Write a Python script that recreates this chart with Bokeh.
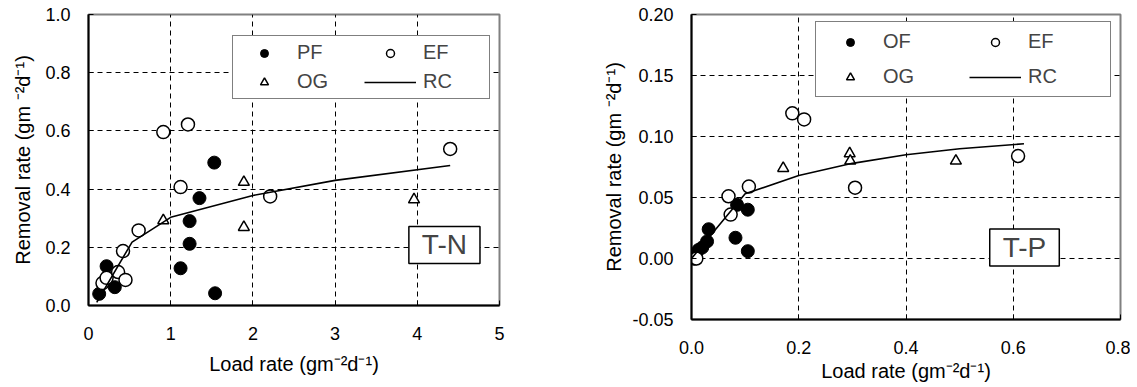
from bokeh.plotting import figure
from bokeh.layouts import row
from bokeh.models import Legend, LegendItem, Label, FixedTicker, NumeralTickFormatter, Range1d
from bokeh.embed import file_html
from bokeh.resources import INLINE

# ---------------- data: T-N panel ----------------
tn_pf_x = [0.13, 0.22, 0.32, 1.12, 1.23, 1.23, 1.35, 1.53, 1.54]
tn_pf_y = [0.040, 0.135, 0.063, 0.128, 0.212, 0.290, 0.369, 0.491, 0.042]
tn_ef_x = [0.17, 0.22, 0.36, 0.45, 0.42, 0.61, 0.91, 1.21, 1.12, 2.21, 4.40]
tn_ef_y = [0.077, 0.095, 0.115, 0.088, 0.187, 0.258, 0.596, 0.622, 0.407, 0.375, 0.538]
tn_og_x = [0.91, 1.89, 1.89, 3.96]
tn_og_y = [0.292, 0.424, 0.269, 0.364]
tn_rc_x = [0.10, 0.53, 1.0, 2.0, 3.0, 4.4]
tn_rc_y = [0.011, 0.218, 0.303, 0.378, 0.430, 0.481]
tn_xticks = [0, 1, 2, 3, 4, 5]
tn_yticks = [0.0, 0.2, 0.4, 0.6, 0.8, 1.0]

# ---------------- data: T-P panel ----------------
tp_of_x = [0.004, 0.008, 0.013, 0.020, 0.029, 0.032, 0.082, 0.085, 0.105, 0.105]
tp_of_y = [0.002, 0.004, 0.007, 0.009, 0.014, 0.024, 0.017, 0.044, 0.040, 0.006]
tp_ef_x = [0.005, 0.009, 0.069, 0.073, 0.107, 0.188, 0.210, 0.305, 0.609]
tp_ef_y = [0.000, 0.000, 0.051, 0.036, 0.059, 0.119, 0.114, 0.058, 0.084]
tp_og_x = [0.171, 0.295, 0.296, 0.493]
tp_og_y = [0.074, 0.086, 0.080, 0.080]
tp_rc_x = [0.0, 0.1, 0.2, 0.3, 0.4, 0.5, 0.62]
tp_rc_y = [0.0, 0.053, 0.068, 0.078, 0.085, 0.090, 0.094]
tp_xticks = [0.0, 0.2, 0.4, 0.6, 0.8]
tp_yticks = [-0.05, 0.0, 0.05, 0.10, 0.15, 0.20]

FONT = "Liberation Sans"
XTITLE = "Load rate (gm\u207b\u00b2d\u207b\u00b9)"
YTITLE = "Removal rate (gm \u207b\u00b2d\u207b\u00b9)"


def style(p, xticks, yticks, xfmt, yfmt):
    p.background_fill_color = "white"
    p.border_fill_color = "white"
    p.outline_line_color = "#808080"
    p.outline_line_width = 2
    for ax, ticks, fmt in ((p.xaxis[0], xticks, xfmt), (p.yaxis[0], yticks, yfmt)):
        ax.ticker = FixedTicker(ticks=ticks)
        ax.formatter = NumeralTickFormatter(format=fmt)
        ax.axis_line_color = "black"
        ax.axis_line_width = 2
        ax.major_tick_in = 5
        ax.major_tick_out = 0
        ax.major_tick_line_color = "black"
        ax.minor_tick_line_color = None
        ax.major_label_text_font = FONT
        ax.major_label_text_font_size = "18px"
        ax.major_label_text_color = "black"
        ax.axis_label_text_font = FONT
        ax.axis_label_text_font_size = "20px"
        ax.axis_label_text_font_style = "normal"
        ax.axis_label_text_color = "black"
    p.xaxis.axis_label = XTITLE
    p.yaxis.axis_label = YTITLE
    p.xaxis.major_label_standoff = 21
    p.yaxis.major_label_standoff = 18
    for g, ticks in ((p.xgrid[0], xticks), (p.ygrid[0], yticks)):
        g.ticker = FixedTicker(ticks=ticks)
        g.grid_line_color = "black"
        g.grid_line_dash = "5 4"
        g.grid_line_width = 1


def panel(fx, fy, ex, ey, ox, oy, rx, ry, names, **kw):
    p = figure(output_backend="svg", toolbar_location=None, **kw)
    r1 = p.scatter(fx, fy, marker="circle", size=13, fill_color="black", line_color="black")
    r2 = p.scatter(ex, ey, marker="circle", size=13, fill_color="white", line_color="black", line_width=1.5)
    r3 = p.scatter(ox, oy, marker="triangle", size=11, fill_color="white", line_color="black", line_width=1.5)
    r4 = p.line(rx, ry, line_color="black", line_width=1.6)
    # legend fills column by column: col 1 = filled / triangle, col 2 = open / line
    items = [LegendItem(label=names[0], renderers=[r1]),
             LegendItem(label=names[2], renderers=[r3]),
             LegendItem(label=names[1], renderers=[r2]),
             LegendItem(label="RC", renderers=[r4])]
    return p, items


# ---------------- left panel ----------------
p1, items1 = panel(tn_pf_x, tn_pf_y, tn_ef_x, tn_ef_y, tn_og_x, tn_og_y, tn_rc_x, tn_rc_y,
                   ["PF", "EF", "OG"],
                   frame_width=411, frame_height=291,
                   min_border_left=88, min_border_right=69, min_border_top=14, min_border_bottom=81,
                   x_range=Range1d(0, 5), y_range=Range1d(0, 1.0))
style(p1, tn_xticks, tn_yticks, "0", "0.0")
p1.yaxis.axis_label_standoff = 8
p1.xaxis.axis_label_standoff = 10
leg1 = Legend(items=items1, ncols=2, location=(144, 206),
              label_text_font=FONT, label_text_font_size="20px",
              glyph_width=52, glyph_height=20, label_height=20, label_width=61,
              label_standoff=7, spacing=6, padding=5, margin=0,
              border_line_color="black", border_line_width=1,
              background_fill_color="white", background_fill_alpha=1.0)
p1.add_layout(leg1, "center")
p1.add_layout(Label(x=4.33, y=0.208, text="T-N", text_align="center", text_baseline="middle",
                    text_font=FONT, text_font_size="28px",
                    padding=dict(left=13, right=13, top=3, bottom=3),
                    border_line_color="black", border_line_width=1.5,
                    background_fill_color="white"))

# ---------------- right panel ----------------
p2, items2 = panel(tp_of_x, tp_of_y, tp_ef_x, tp_ef_y, tp_og_x, tp_og_y, tp_rc_x, tp_rc_y,
                   ["OF", "EF", "OG"],
                   frame_width=429, frame_height=305,
                   min_border_left=123, min_border_right=10, min_border_top=14, min_border_bottom=67,
                   x_range=Range1d(0, 0.8), y_range=Range1d(-0.05, 0.20))
style(p2, tp_xticks, tp_yticks, "0.0", "0.00")
p2.yaxis.axis_label_standoff = 4
p2.xaxis.axis_label_standoff = 3
leg2 = Legend(items=items2, ncols=2, location=(124, 222),
              label_text_font=FONT, label_text_font_size="20px",
              glyph_width=52, glyph_height=20, label_height=20, label_width=74,
              label_standoff=7, spacing=12, padding=8, margin=0,
              border_line_color="black", border_line_width=1,
              background_fill_color="white", background_fill_alpha=1.0)
p2.add_layout(leg2, "center")
p2.add_layout(Label(x=0.621, y=0.009, text="T-P", text_align="center", text_baseline="middle",
                    text_font=FONT, text_font_size="28px",
                    padding=dict(left=13, right=13, top=3, bottom=3),
                    border_line_color="black", border_line_width=1.5,
                    background_fill_color="white"))

layout = row(p1, p2)
open("out.html", "w").write(file_html(layout, INLINE))
